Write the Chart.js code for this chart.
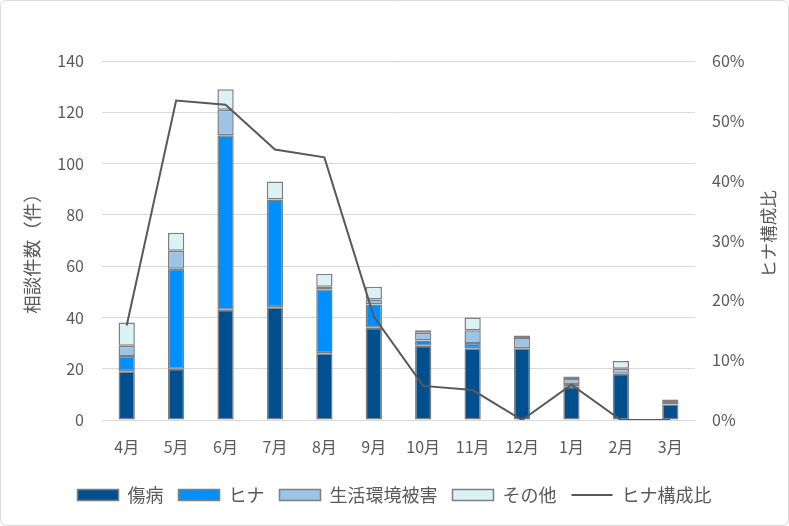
<!DOCTYPE html>
<html>
<head>
<meta charset="utf-8">
<script src="https://cdn.jsdelivr.net/npm/chart.js@4"></script>
<style>
  html, body { margin: 0; padding: 0; background: #fff; }
  #wrap { width: 789px; height: 526px; }
</style>
</head>
<body>
<div id="wrap"><canvas id="grafico" width="789" height="526"></canvas></div>
<script>
var meses = ["4月", "5月", "6月", "7月", "8月", "9月", "10月", "11月", "12月", "1月", "2月", "3月"];
var shobyo = [19, 20, 43, 44, 26, 36, 29, 28, 28, 13, 18, 6];
var hina = [6, 39, 68, 42, 25, 9, 2, 2, 0, 1, 0, 0];
var seikatsu = [4, 7, 10, 0, 1, 2, 3, 5, 4, 2, 2, 1];
var sonota = [9, 7, 8, 7, 5, 5, 1, 5, 1, 1, 3, 1];
var hinaRatio = [0.158, 0.534, 0.527, 0.452, 0.439, 0.173, 0.057, 0.05, 0, 0.059, 0, 0];
var leftTicks = [0, 20, 40, 60, 80, 100, 120, 140];
var rightTicks = [0, 0.1, 0.2, 0.3, 0.4, 0.5, 0.6];

var fonte = "'Noto Sans CJK JP', 'Noto Sans', sans-serif";
var cinza = "#595959";

function barra(label, dados, cor) {
    return {
        type: "bar",
        label: label,
        data: dados,
        backgroundColor: cor,
        borderColor: "#7f7f7f",
        borderWidth: 1.5,
        borderSkipped: false,
        yAxisID: "y",
        stack: "s",
        order: 1,
        pointStyle: "rect",
        categoryPercentage: 1,
        barPercentage: 0.33
    };
}

// títulos dos eixos e moldura
var extras = {
    id: "extras",
    beforeDraw: function (chart) {
        var c = chart.ctx;
        c.save();
        c.fillStyle = "#fff";
        c.fillRect(0, 0, chart.width, chart.height);
        c.strokeStyle = "#d9d9d9";
        c.lineWidth = 1;
        c.beginPath();
        c.roundRect(0.5, 0.5, chart.width - 1, chart.height - 1, 6);
        c.stroke();
        c.restore();
    },
    afterDraw: function (chart) {
        var c = chart.ctx;
        c.save();
        c.fillStyle = cinza;
        c.font = "18.5px " + fonte;
        c.textAlign = "center";
        c.textBaseline = "middle";
        c.translate(32, 249);
        c.rotate(-Math.PI / 2);
        c.fillText("相談件数（件）", 0, 0);
        c.restore();
        c.save();
        c.fillStyle = cinza;
        c.font = "17.5px " + fonte;
        c.textAlign = "center";
        c.textBaseline = "middle";
        c.translate(768, 234);
        c.rotate(-Math.PI / 2);
        c.fillText("ヒナ構成比", 0, 0);
        c.restore();
    }
};

new Chart(document.getElementById("grafico"), {
    data: {
        labels: meses,
        datasets: [
            barra("傷病", shobyo, "#00508f"),
            barra("ヒナ", hina, "#008fff"),
            barra("生活環境被害", seikatsu, "#9dc3e6"),
            barra("その他", sonota, "#daf2f6"),
            {
                type: "line",
                label: "ヒナ構成比",
                data: hinaRatio,
                borderColor: "#595959",
                backgroundColor: "#595959",
                borderWidth: 2,
                pointRadius: 0,
                pointStyle: "line",
                tension: 0,
                yAxisID: "y1",
                order: 0
            }
        ]
    },
    options: {
        responsive: false,
        animation: false,
        layout: { padding: { top: 61, bottom: 12, left: 0, right: 0 } },
        plugins: {
            tooltip: { enabled: false },
            legend: {
                position: "bottom",
                labels: {
                    usePointStyle: true,
                    pointStyleWidth: 41,
                    boxHeight: 11,
                    padding: 15,
                    color: cinza,
                    font: { family: fonte, size: 18 },
                    sort: function (a, b) { return a.datasetIndex - b.datasetIndex; }
                }
            }
        },
        scales: {
            x: {
                stacked: true,
                grid: { display: false, drawTicks: false },
                border: { color: "#d9d9d9" },
                ticks: { color: cinza, padding: 17, font: { family: fonte, size: 16 } },
                afterFit: function (s) { s.height = 51; }
            },
            y: {
                stacked: true,
                position: "left",
                min: 0,
                max: 140,
                afterBuildTicks: function (s) {
                    s.ticks = leftTicks.map(function (v) { return { value: v }; });
                },
                grid: { color: "#d9d9d9", lineWidth: 1, drawTicks: false },
                border: { display: false },
                ticks: { color: cinza, padding: 18, font: { family: fonte, size: 16 } },
                afterFit: function (s) { s.width = 102; }
            },
            y1: {
                position: "right",
                min: 0,
                max: 0.6,
                afterBuildTicks: function (s) {
                    s.ticks = rightTicks.map(function (v) { return { value: v }; });
                },
                grid: { display: false, drawTicks: false },
                border: { display: false },
                ticks: {
                    color: cinza,
                    padding: 17,
                    font: { family: fonte, size: 16 },
                    callback: function (v) { return Math.round(v * 100) + "%"; }
                },
                afterFit: function (s) { s.width = 94; }
            }
        }
    },
    plugins: [extras]
});
</script>
</body>
</html>
